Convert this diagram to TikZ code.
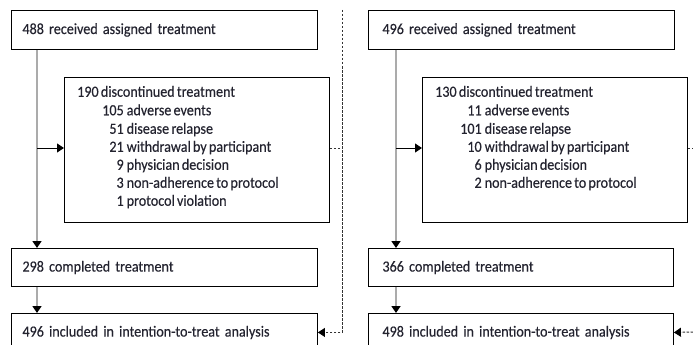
\documentclass[tikz,border=0pt]{standalone}
\usepackage{fontspec}
\setmainfont{Carlito}[FakeStretch=0.91, WordSpace=0.7, FakeBold=0.3]
\usetikzlibrary{arrows.meta}
\definecolor{txtc}{HTML}{23232F}
\definecolor{linegray}{HTML}{ABABAB}
\definecolor{dashc}{HTML}{333333}
\newcommand\subnum[1]{\makebox[21.5pt][r]{#1}\hspace{3pt}}
\begin{document}
\begin{tikzpicture}[x=1pt,y=-1pt,
  box/.style={draw=black, line width=0.9pt, rectangle, anchor=north west, inner ysep=0pt, align=left,
     font=\fontsize{15.5}{17}\selectfont, text=txtc},
  line/.style={inner sep=0pt, anchor=west, text height=10.5pt, text depth=3pt,
     font=\fontsize{15.5}{17}\selectfont, text=txtc},
  grayarrow/.style={draw=linegray, line width=1.7pt, -{Triangle[length=7pt,width=9pt,color=black]}},
  blackarrow/.style={draw=black, line width=0.9pt, -{Triangle[length=7pt,width=9pt,color=black]}},
  dashline/.style={draw=dashc, line width=1pt, dash pattern=on 2.5pt off 1.5pt},
  dasharrow/.style={dashline, -{Triangle[length=7pt,width=9pt,color=black]}}
]
\useasboundingbox (0,0) rectangle (693,345);
\fill[white] (0,0) rectangle (693,345);

% ---------- left column ----------
\node[box, minimum width=306pt, minimum height=39pt, inner xsep=11pt, text width=284pt] (b1L) at (11,10) {488 received assigned treatment};
\node[box, minimum width=265pt, minimum height=145pt] (dL) at (64,77) {};
\node[line] (dL0) at (77,93) {190 discontinued treatment};
\node[line] (dL1) at (102,111.5) {\subnum{105}adverse events};
\node[line] (dL2) at (102,130) {\subnum{51}disease relapse};
\node[line] (dL3) at (102,148) {\subnum{21}withdrawal by participant};
\node[line] (dL4) at (102,166) {\subnum{9}physician decision};
\node[line] (dL5) at (102,184) {\subnum{3}non-adherence to protocol};
\node[line] (dL6) at (102,202) {\subnum{1}protocol violation};
\node[box, minimum width=306pt, minimum height=38pt, inner xsep=11pt, text width=284pt] (b3L) at (11,248) {298 completed treatment};
\node[box, minimum width=306pt, minimum height=38pt, inner xsep=11pt, text width=284pt] (b4L) at (11,313) {496 included in intention-to-treat analysis};

\draw[grayarrow] ([xshift=26pt]b1L.south west) -- ([xshift=26pt]b3L.north west);
\draw[grayarrow] ([xshift=26pt]b3L.south west) -- ([xshift=26pt]b4L.north west);
\draw[blackarrow] ([xshift=26pt]b1L.south west |- dL3.west) -- (dL.west |- dL3.west);

\coordinate (dtopL) at (342,10);
\draw[dasharrow] (dtopL) |- (b4L.east);
\draw[dashline] (dL.east |- dL3.west) -- (dtopL |- dL3.west);

% ---------- right column ----------
\node[box, minimum width=306pt, minimum height=39pt, inner xsep=14pt, text width=278pt] (b1R) at (368,10) {496 received assigned treatment};
\node[box, minimum width=265pt, minimum height=145pt] (dR) at (422,77) {};
\node[line] (dR0) at (435,93) {130 discontinued treatment};
\node[line] (dR1) at (460,111.5) {\subnum{11}adverse events};
\node[line] (dR2) at (460,130) {\subnum{101}disease relapse};
\node[line] (dR3) at (460,148) {\subnum{10}withdrawal by participant};
\node[line] (dR4) at (460,166) {\subnum{6}physician decision};
\node[line] (dR5) at (460,184) {\subnum{2}non-adherence to protocol};
\node[box, minimum width=305pt, minimum height=38pt, inner xsep=14pt, text width=277pt] (b3R) at (368,248) {366 completed treatment};
\node[box, minimum width=305pt, minimum height=38pt, inner xsep=14pt, text width=277pt] (b4R) at (368,313) {498 included in intention-to-treat analysis};

\draw[grayarrow] ([xshift=28pt]b1R.south west) -- ([xshift=28pt]b3R.north west);
\draw[grayarrow] ([xshift=28pt]b3R.south west) -- ([xshift=28pt]b4R.north west);
\draw[blackarrow] ([xshift=28pt]b1R.south west |- dR3.west) -- (dR.west |- dR3.west);

\coordinate (edgeR) at (693,332);
\draw[dasharrow] (edgeR) -- (b4R.east);
\draw[dashline] (dR.east |- dR3.west) -- (edgeR |- dR3.west);
\end{tikzpicture}
\end{document}
